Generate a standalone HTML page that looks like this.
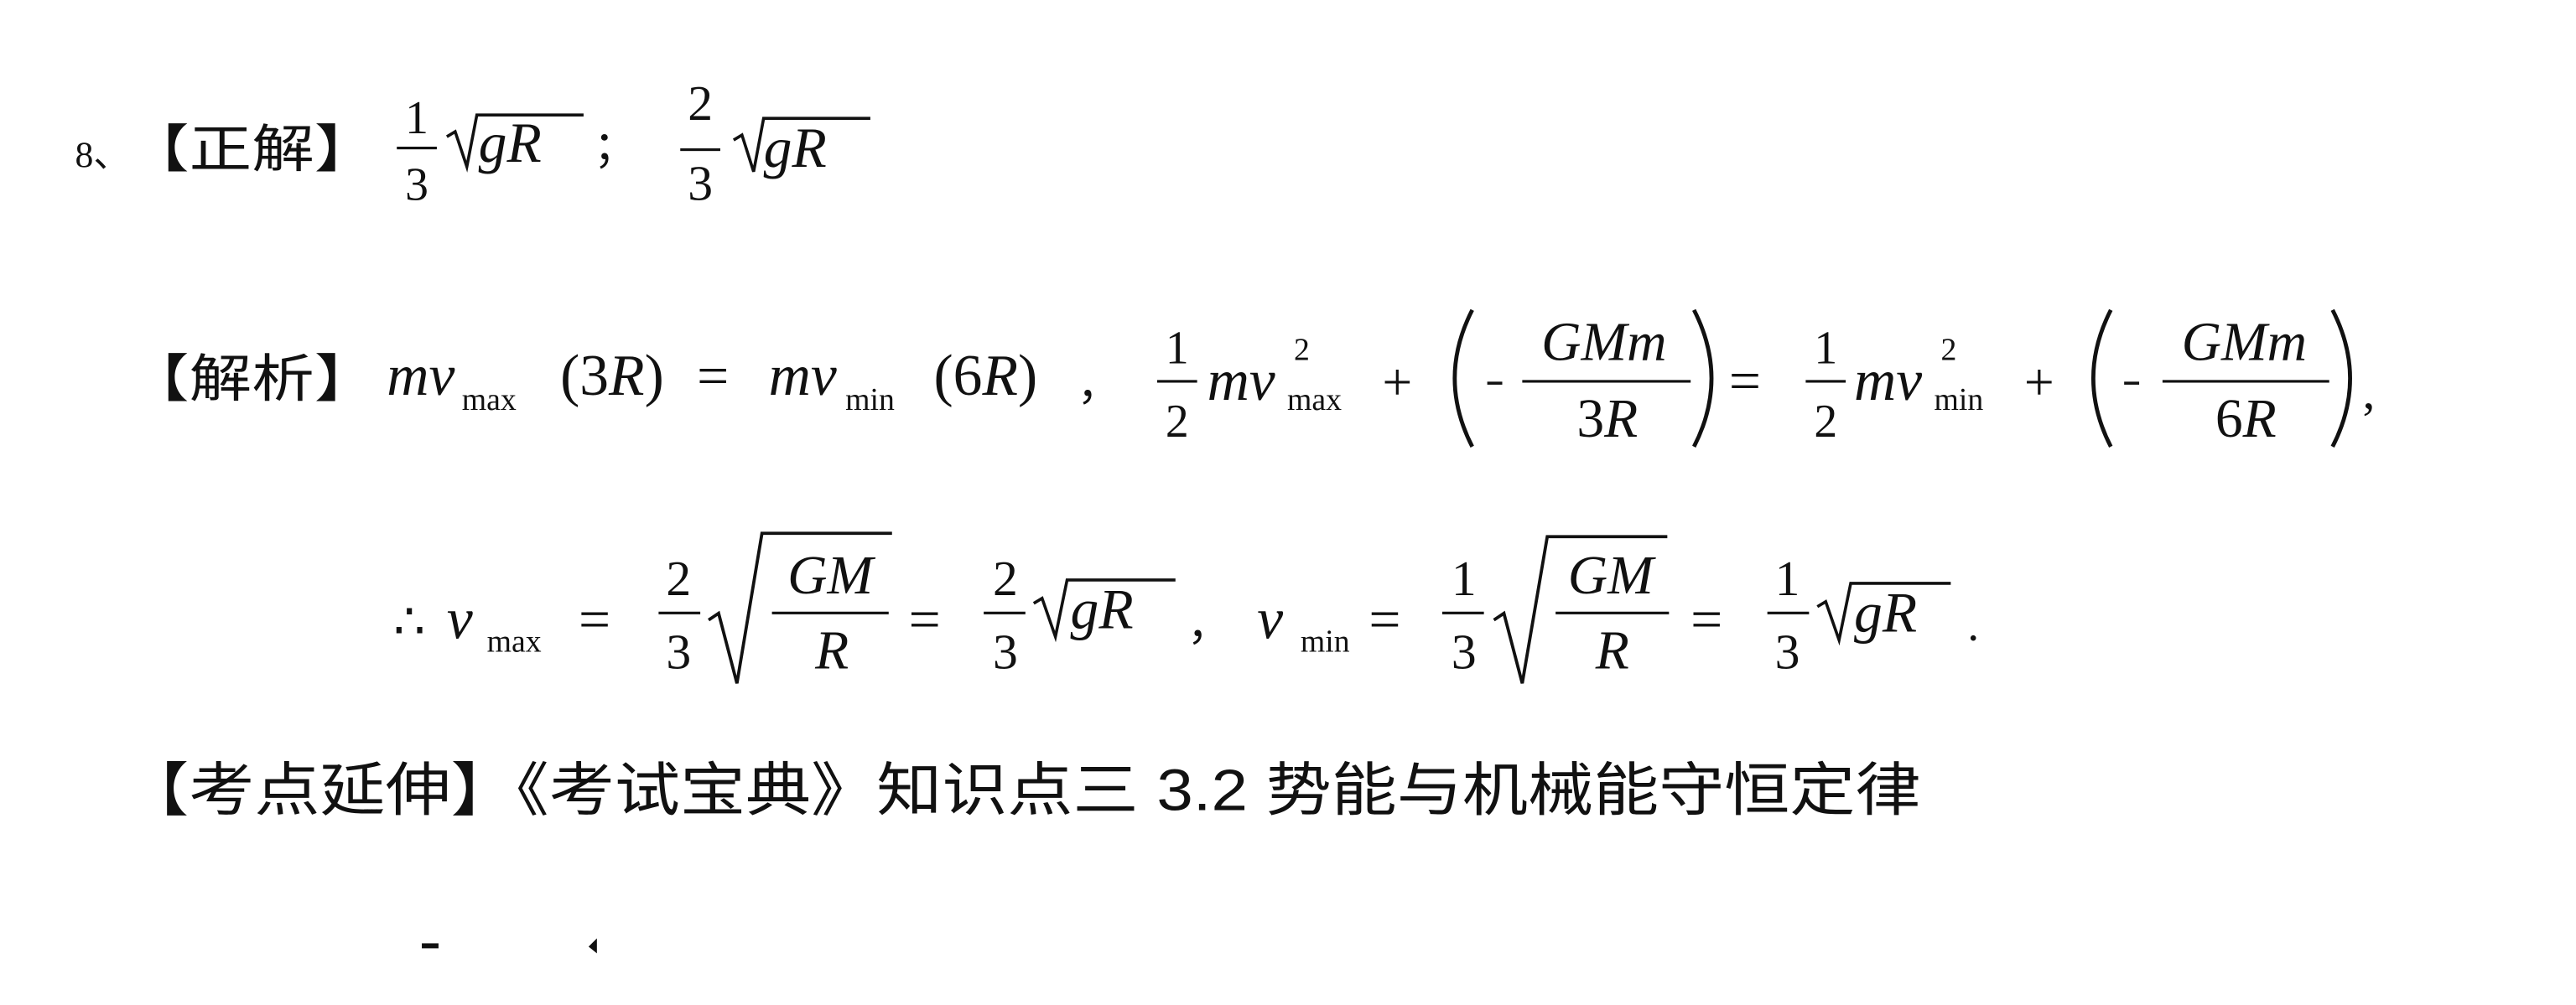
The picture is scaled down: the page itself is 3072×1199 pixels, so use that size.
<!DOCTYPE html>
<html><head><meta charset="utf-8"><style>
html,body{margin:0;padding:0;background:#fff;width:3072px;height:1199px;overflow:hidden}
svg{display:block}
.m{font-family:"Liberation Serif",serif;font-style:italic}
.r{font-family:"Liberation Serif",serif}
.c{font-family:"Liberation Sans","Noto Sans CJK SC",sans-serif}
</style></head><body>
<svg width="3072" height="1199" viewBox="0 0 1545 603" xmlns="http://www.w3.org/2000/svg">
<g fill="#111" stroke="none">
<!-- Line 1 -->
<text x="45" y="100" class="r" font-size="22">8、</text>
<text x="76" y="100" class="c" font-size="31" textLength="150" lengthAdjust="spacingAndGlyphs">【正解】</text>
<text x="250" y="80" class="r" font-size="28" text-anchor="middle">1</text>
<rect x="238" y="88" width="24" height="1.6"/>
<text x="250" y="120" class="r" font-size="28" text-anchor="middle">3</text>
<path d="M268 82 L273 79 L280 100 L286 69 L350 69" fill="none" stroke="#111" stroke-width="1.8"/>
<text x="287" y="97" class="m" font-size="34">gR</text>
<text x="356" y="97" class="c" font-size="26">；</text>
<text x="420" y="72" class="r" font-size="30" text-anchor="middle">2</text>
<rect x="408" y="89" width="24" height="1.6"/>
<text x="420" y="120" class="r" font-size="30" text-anchor="middle">3</text>
<path d="M440 84 L445 81 L452 103 L458 71 L522 71" fill="none" stroke="#111" stroke-width="1.8"/>
<text x="458" y="100" class="m" font-size="34">gR</text>

<!-- Line 2 -->
<text x="76" y="238" class="c" font-size="31" textLength="150" lengthAdjust="spacingAndGlyphs">【解析】</text>
<text x="232" y="237" class="m" font-size="35">mv</text>
<text x="277" y="246" class="r" font-size="19">max</text>
<text x="336" y="237" class="r" font-size="35">(3<tspan class="m">R</tspan>)</text>
<text x="418" y="237" class="r" font-size="34">=</text>
<text x="461" y="237" class="m" font-size="35">mv</text>
<text x="507" y="246" class="r" font-size="19">min</text>
<text x="560" y="237" class="r" font-size="35">(6<tspan class="m">R</tspan>)</text>
<text x="646" y="240" class="c" font-size="26">，</text>
<text x="706" y="218" class="r" font-size="28" text-anchor="middle">1</text>
<rect x="694" y="228" width="24" height="1.6"/>
<text x="706" y="262" class="r" font-size="28" text-anchor="middle">2</text>
<text x="724" y="240" class="m" font-size="35">mv</text>
<text x="776" y="216" class="r" font-size="19">2</text>
<text x="772" y="246" class="r" font-size="19">max</text>
<text x="829" y="240" class="r" font-size="32">+</text>
<path d="M883 186 Q862 227 883 268" fill="none" stroke="#111" stroke-width="2.4"/>
<rect x="892" y="229" width="9" height="1.8"/>
<text x="962" y="216" class="m" font-size="33" text-anchor="middle">GMm</text>
<rect x="913" y="228" width="101" height="1.6"/>
<text x="964" y="262" class="r" font-size="33" text-anchor="middle">3<tspan class="m">R</tspan></text>
<path d="M1016 186 Q1037 227 1016 268" fill="none" stroke="#111" stroke-width="2.4"/>
<text x="1037" y="240" class="r" font-size="34">=</text>
<text x="1095" y="218" class="r" font-size="28" text-anchor="middle">1</text>
<rect x="1083" y="228" width="24" height="1.6"/>
<text x="1095" y="262" class="r" font-size="28" text-anchor="middle">2</text>
<text x="1112" y="240" class="m" font-size="35">mv</text>
<text x="1164" y="216" class="r" font-size="19">2</text>
<text x="1160" y="246" class="r" font-size="19">min</text>
<text x="1214" y="240" class="r" font-size="32">+</text>
<path d="M1266 186 Q1245 227 1266 268" fill="none" stroke="#111" stroke-width="2.4"/>
<rect x="1274" y="229" width="9" height="1.8"/>
<text x="1346" y="216" class="m" font-size="33" text-anchor="middle">GMm</text>
<rect x="1297" y="228" width="100" height="1.6"/>
<text x="1347" y="262" class="r" font-size="33" text-anchor="middle">6<tspan class="m">R</tspan></text>
<path d="M1399 186 Q1420 227 1399 268" fill="none" stroke="#111" stroke-width="2.4"/>
<text x="1417" y="245" class="r" font-size="30">,</text>

<!-- Line 3 -->
<text x="236" y="383" class="r" font-size="30">∴</text>
<text x="268" y="383" class="m" font-size="35">v</text>
<text x="292" y="391" class="r" font-size="19">max</text>
<text x="347" y="383" class="r" font-size="34">=</text>
<text x="407" y="357" class="r" font-size="30" text-anchor="middle">2</text>
<rect x="395" y="367" width="25" height="1.6"/>
<text x="407" y="401" class="r" font-size="30" text-anchor="middle">3</text>
<path d="M425 372 L431 368 L442 410 L457 320 L535 320" fill="none" stroke="#111" stroke-width="1.9"/>
<text x="498" y="356" class="m" font-size="33" text-anchor="middle">GM</text>
<rect x="463" y="367" width="70" height="1.6"/>
<text x="499" y="401" class="m" font-size="33" text-anchor="middle">R</text>
<text x="545" y="383" class="r" font-size="34">=</text>
<text x="603" y="357" class="r" font-size="30" text-anchor="middle">2</text>
<rect x="590" y="367" width="25" height="1.6"/>
<text x="603" y="401" class="r" font-size="30" text-anchor="middle">3</text>
<path d="M620 362 L625 359 L633 382 L640 348 L705 348" fill="none" stroke="#111" stroke-width="1.8"/>
<text x="642" y="377" class="m" font-size="34">gR</text>
<text x="712" y="384" class="c" font-size="26">，</text>
<text x="754" y="383" class="m" font-size="35">v</text>
<text x="780" y="391" class="r" font-size="19">min</text>
<text x="821" y="383" class="r" font-size="34">=</text>
<text x="878" y="357" class="r" font-size="30" text-anchor="middle">1</text>
<rect x="865" y="367" width="25" height="1.6"/>
<text x="878" y="401" class="r" font-size="30" text-anchor="middle">3</text>
<path d="M896 372 L902 368 L913 410 L928 322 L1000 322" fill="none" stroke="#111" stroke-width="1.9"/>
<text x="966" y="356" class="m" font-size="33" text-anchor="middle">GM</text>
<rect x="933" y="367" width="68" height="1.6"/>
<text x="967" y="401" class="m" font-size="33" text-anchor="middle">R</text>
<text x="1014" y="383" class="r" font-size="34">=</text>
<text x="1072" y="357" class="r" font-size="30" text-anchor="middle">1</text>
<rect x="1060" y="367" width="25" height="1.6"/>
<text x="1072" y="401" class="r" font-size="30" text-anchor="middle">3</text>
<path d="M1090 364 L1095 361 L1103 384 L1110 350 L1170 350" fill="none" stroke="#111" stroke-width="1.8"/>
<text x="1112" y="379" class="m" font-size="34">gR</text>
<text x="1180" y="384" class="r" font-size="28">.</text>

<!-- Line 4 -->
<text x="74" y="486" class="c" font-size="35" textLength="1078" lengthAdjust="spacingAndGlyphs">【考点延伸】《考试宝典》知识点三 3.2 势能与机械能守恒定律</text>

<!-- bottom marks -->
<rect x="253" y="566" width="10" height="3"/>
<path d="M353 568 L358 563 L358 572 Z"/>
</g>
</svg>
</body></html>
